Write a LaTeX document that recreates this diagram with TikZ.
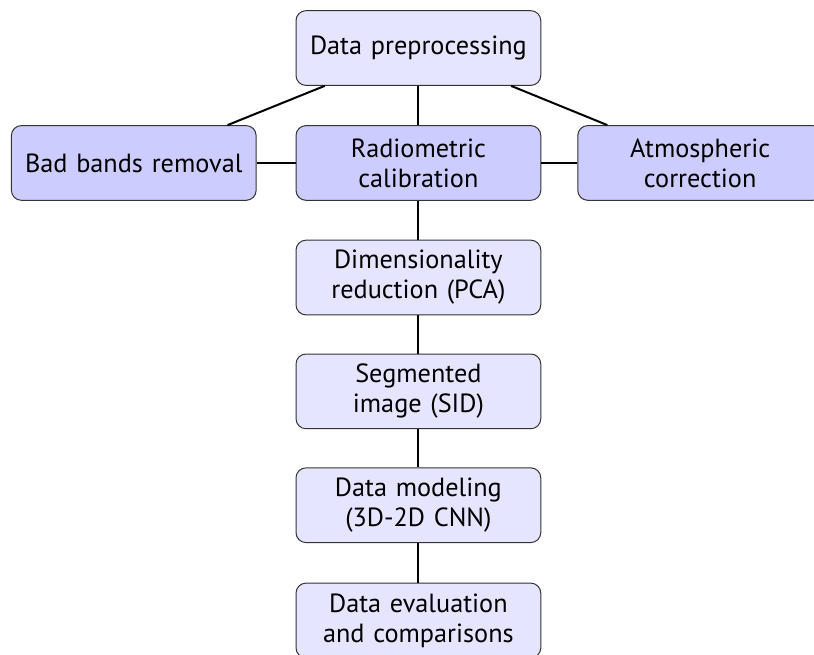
\documentclass[tikz,border=0pt]{standalone}
\usepackage{fontspec}
\setmainfont{PT Sans}
\usepackage{tikz}

\tikzset{
  stepbox/.style={draw=black!80, rounded corners=4pt, fill=blue!10,
    minimum width=3.44cm, minimum height=1.05cm, text width=3.3cm,
    align=center, inner sep=0pt, font=\fontsize{10.5}{12}\selectfont},
  subbox/.style={stepbox, fill=blue!20},
  link/.style={thick}
}

\begin{document}
\begin{tikzpicture}
  \useasboundingbox (0,0) rectangle (11.44,-9.195);

  \node[stepbox] (prep) at (5.88,-0.675) {Data preprocessing};

  \node[subbox] (bad) at (1.88,-2.29) {Bad bands removal};
  \node[subbox] (radio) at (5.88,-2.29) {Radiometric\\calibration};
  \node[subbox] (atmo) at (9.84,-2.29) {Atmospheric\\correction};

  \node[stepbox] (pca) at (5.88,-3.90) {Dimensionality\\reduction (PCA)};
  \node[stepbox] (sid) at (5.88,-5.50) {Segmented\\image (SID)};
  \node[stepbox] (cnn) at (5.88,-7.10) {Data modeling\\(3D-2D CNN)};
  \node[stepbox] (eval) at (5.88,-8.72) {Data evaluation\\and comparisons};

  \draw[link] (prep) -- (bad);
  \draw[link] (prep) -- (radio);
  \draw[link] (prep) -- (atmo);
  \draw[link] (bad) -- (radio);
  \draw[link] (radio) -- (atmo);

  \draw[link] (radio) -- (pca);
  \draw[link] (pca) -- (sid);
  \draw[link] (sid) -- (cnn);
  \draw[link] (cnn) -- (eval);
\end{tikzpicture}
\end{document}
